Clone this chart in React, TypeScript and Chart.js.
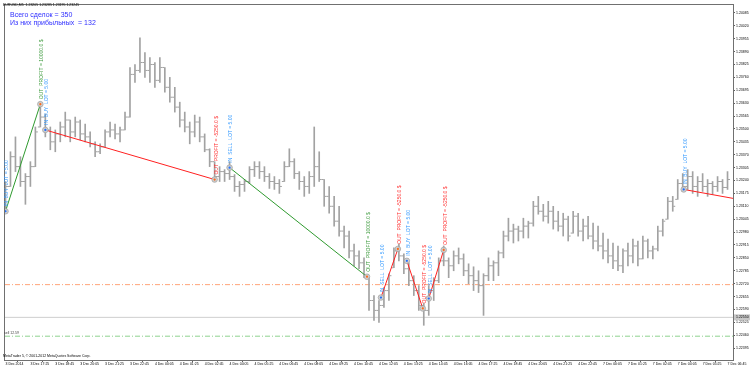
import React, { useEffect, useRef } from "react";
import { Chart, registerables } from "chart.js";

Chart.register(...registerables);

// Prices in points (price * 100000), 15-minute bars
const HIGH = [
  123235, 123385, 123460, 123360, 123275, 123335, 123510, 123635, 123575, 123510,
  123495, 123535, 123585, 123545, 123560, 123545, 123525, 123485, 123435, 123425,
  123495, 123535, 123525, 123510, 123585, 123810, 123825, 123960, 123885, 123860,
  123835, 123860, 123810, 123760, 123710, 123635, 123585, 123535, 123570, 123560,
  123475, 123400, 123335, 123310, 123295, 123335, 123270, 123235, 123245, 123310,
  123335, 123335, 123310, 123275, 123260, 123245, 123335, 123400, 123350, 123285,
  123260, 123285, 123510, 123385, 123245, 123210, 123160, 123110, 123010, 122985,
  122920, 122885, 122850, 122750, 122660, 122635, 122700, 122770, 122900, 122920,
  122870, 122825, 122760, 122710, 122620, 122710, 122750, 122850, 122910, 122850,
  122885, 122900, 122870, 122820, 122805, 122785, 122770, 122850, 122835, 122885,
  122985, 123050, 123020, 123010, 123050, 123035, 123135, 123160, 123120, 123135,
  123110, 123085, 123075, 123060, 123085, 123075, 123045, 123060, 123025, 123010,
  122975, 122945, 122925, 122910, 122895, 122925, 122945, 122935, 122960, 122945,
  122910, 123010, 123045, 123155, 123160, 123245, 123275, 123295, 123285, 123260,
  123275, 123245, 123235, 123260, 123245, 123285,
];
const LOW = [
  123085, 123210, 123285, 123210, 123120, 123210, 123310, 123510, 123460, 123395,
  123385, 123435, 123460, 123435, 123460, 123445, 123435, 123410, 123360, 123375,
  123410, 123460, 123450, 123435, 123495, 123560, 123735, 123785, 123760, 123735,
  123710, 123735, 123685, 123635, 123585, 123510, 123485, 123425, 123460, 123435,
  123385, 123310, 123235, 123235, 123235, 123245, 123185, 123160, 123185, 123225,
  123260, 123250, 123235, 123200, 123195, 123175, 123235, 123310, 123250, 123195,
  123160, 123175, 123210, 123235, 123110, 123075, 123010, 122960, 122900, 122850,
  122810, 122795, 122750, 122585, 122535, 122525, 122600, 122635, 122800, 122835,
  122770, 122710, 122660, 122585, 122510, 122560, 122635, 122725, 122810, 122750,
  122785, 122820, 122760, 122720, 122685, 122675, 122560, 122735, 122735, 122760,
  122850, 122935, 122925, 122935, 122950, 122950, 123010, 123070, 123035, 123025,
  122995, 122985, 122960, 122935, 122975, 122960, 122935, 122945, 122895, 122885,
  122845, 122825, 122795, 122785, 122775, 122810, 122825, 122810, 122845, 122850,
  122845, 122885, 122960, 123045, 123085, 123145, 123185, 123195, 123175, 123160,
  123185, 123160, 123170, 123185, 123175, 123195,
];
const CLOSE = [
  123210, 123360, 123310, 123235, 123260, 123310, 123485, 123560, 123495, 123435,
  123475, 123510, 123545, 123485, 123535, 123475, 123460, 123425, 123385, 123410,
  123485, 123495, 123475, 123495, 123560, 123775, 123795, 123835, 123795, 123825,
  123745, 123810, 123710, 123660, 123610, 123545, 123510, 123485, 123535, 123460,
  123395, 123335, 123260, 123285, 123275, 123260, 123210, 123220, 123235, 123295,
  123310, 123285, 123260, 123235, 123225, 123210, 123310, 123335, 123275, 123235,
  123210, 123260, 123310, 123245, 123160, 123110, 123035, 122985, 122960, 122885,
  122860, 122825, 122760, 122635, 122585, 122610, 122685, 122760, 122885, 122860,
  122795, 122735, 122685, 122610, 122585, 122685, 122735, 122835, 122835, 122810,
  122860, 122845, 122785, 122760, 122735, 122710, 122760, 122810, 122825, 122875,
  122960, 122985, 122995, 122985, 123010, 123025, 123110, 123085, 123060, 123085,
  123035, 123010, 123045, 122960, 123060, 122985, 123010, 122960, 122935, 122910,
  122885, 122860, 122835, 122810, 122885, 122860, 122910, 122845, 122935, 122885,
  122895, 122985, 123035, 123135, 123110, 123225, 123210, 123260, 123210, 123235,
  123210, 123225, 123210, 123235, 123205, 123245,
];

const BARS_PER_LABEL = 5;
const X_LABELS = [
  "3 Dec 2014", "3 Dec 17:25", "3 Dec 18:45", "3 Dec 20:05", "3 Dec 21:25", "3 Dec 22:45",
  "4 Dec 00:05", "4 Dec 01:25", "4 Dec 02:45", "4 Dec 04:05", "4 Dec 05:25", "4 Dec 06:45",
  "4 Dec 08:05", "4 Dec 09:25", "4 Dec 10:45", "4 Dec 12:05", "4 Dec 13:25", "4 Dec 14:45",
  "4 Dec 16:05", "4 Dec 17:25", "4 Dec 18:45", "4 Dec 20:05", "4 Dec 21:25", "4 Dec 22:45",
  "7 Dec 00:05", "7 Dec 01:25", "7 Dec 02:45", "7 Dec 04:05", "7 Dec 05:25", "7 Dec 06:45",
];
const Y_TICK_LABELS = [
  "1.24085", "1.24020", "1.23955", "1.23890", "1.23825", "1.23760", "1.23695", "1.23630",
  "1.23565", "1.23500", "1.23435", "1.23370", "1.23305", "1.23240", "1.23175", "1.23110",
  "1.23045", "1.22980", "1.22915", "1.22850", "1.22785", "1.22720", "1.22655", "1.22590",
  "1.22525", "1.22460", "1.22395",
];

// Trades
const ENTRY_X = [0, 8, 45, 75.4, 80.6, 85, 136.2];
const ENTRY_P = [123085, 123495, 123305, 122650, 122835, 122645, 123195];
const ENTRY_TEXT = [
  "IN  BUY  LOT = 5.00", "IN  BUY  LOT = 5.00", "IN  SELL  LOT = 5.00", "IN  SELL  LOT = 5.00",
  "IN  BUY  LOT = 5.00", "IN  SELL  LOT = 5.00", "IN  BUY  LOT = 5.00",
];
const EXIT_X = [7, 42, 72.6, 78.8, 83.8, 88];
const EXIT_P = [123625, 123245, 122755, 122895, 122595, 122890];
const EXIT_PROFIT = [10000, -5250, 10000, -5250, -5250, -5250];
const OPEN_END_X = 146.1;
const OPEN_END_P = 123150;

// Horizontal levels
const LEVEL_TP = 122715;
const LEVEL_PRICE = 122550;
const LEVEL_SL = 122455;

const X_MIN = -0.1;
const X_MAX = 146.1;
const Y_MIN = 122335;
const Y_MAX = 124125;

const FONT = '"Liberation Sans", Arial, sans-serif';
const GREEN = "#3c9a3c";
const RED = "#ff2e2e";
const BLUE = "#3399ff";
const BAR_COLOR = "#a2a2a2";

const fmt = (v: number) => (v / 100000).toFixed(5);

const overlayPlugin = {
  id: "overlay",
  beforeDatasetsDraw(chart: any) {
    const { ctx, chartArea } = chart;
    ctx.save();
    ctx.strokeStyle = "#707070";
    ctx.lineWidth = 1;
    ctx.strokeRect(
      Math.round(chartArea.left) - 0.5,
      Math.round(chartArea.top) - 0.5,
      Math.round(chartArea.right - chartArea.left) + 1,
      Math.round(chartArea.bottom - chartArea.top) + 1
    );
    ctx.restore();
  },
  afterDatasetsDraw(chart: any) {
    const { ctx } = chart;
    const xs = chart.scales.x;
    const ys = chart.scales.y;
    ctx.save();
    ctx.font = `5px ${FONT}`;
    ctx.textAlign = "left";
    ctx.textBaseline = "middle";
    const drawV = (text: string, xv: number, pv: number, color: string) => {
      const x = xs.getPixelForValue(xv) + 1.5;
      const y = ys.getPixelForValue(pv) - 5;
      ctx.save();
      ctx.translate(x, y);
      ctx.rotate(-Math.PI / 2);
      ctx.fillStyle = color;
      ctx.fillText(text, 0, 0);
      ctx.restore();
    };
    ENTRY_X.forEach((xv, k) => drawV(ENTRY_TEXT[k], xv, ENTRY_P[k], BLUE));
    EXIT_X.forEach((xv, k) =>
      drawV(
        `OUT  PROFIT = ${EXIT_PROFIT[k].toFixed(1)} $`,
        xv,
        EXIT_P[k],
        EXIT_PROFIT[k] > 0 ? GREEN : RED
      )
    );
    ctx.restore();
  },
  afterDraw(chart: any) {
    const { ctx, chartArea } = chart;
    const ys = chart.scales.y;
    ctx.save();
    ctx.textBaseline = "middle";
    ctx.textAlign = "left";
    ctx.fillStyle = "#000";
    ctx.font = `3.5px ${FONT}`;
    const last = CLOSE.length - 1;
    ctx.fillText(
      `EURUSD,M5  ${fmt(CLOSE[last - 1])} ${fmt(HIGH[last])} ${fmt(LOW[last])} ${fmt(CLOSE[last])}`,
      3,
      5
    );
    ctx.fillText("MetaTrader 5, © 2001-2012 MetaQuotes Software Corp.", 3, 356);
    ctx.fillStyle = "#444";
    ctx.fillText("sell 12.59", 4, ys.getPixelForValue(LEVEL_SL) - 3);
    ctx.fillStyle = "#3030ff";
    ctx.font = `7px ${FONT}`;
    ctx.fillText("Всего сделок = 350", 10, 15);
    ctx.fillText("Из них прибыльных  = 132", 10, 23);
    const py = ys.getPixelForValue(LEVEL_PRICE);
    ctx.fillStyle = "#c8c8c8";
    ctx.fillRect(chartArea.right + 1, py - 3, 16, 6);
    ctx.fillStyle = "#000";
    ctx.font = `3.5px ${FONT}`;
    ctx.fillText(fmt(LEVEL_PRICE), chartArea.right + 3, py);
    ctx.restore();
  },
};

export default function App() {
  const ref = useRef<HTMLCanvasElement>(null);

  useEffect(() => {
    if (!ref.current) return;
    const opens = CLOSE.map((c, i) =>
      i === 0 ? c : Math.min(HIGH[i], Math.max(LOW[i], CLOSE[i - 1]))
    );
    const levelLine = (p: number, color: string, dash: number[]) => ({
      type: "line",
      data: [
        { x: X_MIN, y: p },
        { x: X_MAX, y: p },
      ],
      borderColor: color,
      borderWidth: 1,
      borderDash: dash,
      pointRadius: 0,
      order: 20,
    });
    const tradeLines: any[] = [];
    EXIT_X.forEach((xv, k) => {
      tradeLines.push({
        type: "line",
        data: [
          { x: ENTRY_X[k], y: ENTRY_P[k] },
          { x: xv, y: EXIT_P[k] },
        ],
        borderColor: EXIT_PROFIT[k] > 0 ? "#2f9a2f" : "#ff2020",
        borderWidth: 1,
        pointRadius: 0,
        order: 5,
      });
    });
    const lastK = ENTRY_X.length - 1;
    tradeLines.push({
      type: "line",
      data: [
        { x: ENTRY_X[lastK], y: ENTRY_P[lastK] },
        { x: OPEN_END_X, y: OPEN_END_P },
      ],
      borderColor: "#ff2020",
      borderWidth: 1,
      pointRadius: 0,
      order: 5,
    });

    const chart = new Chart(ref.current, {
      type: "scatter",
      data: {
        datasets: [
          levelLine(LEVEL_TP, "#ffa47a", [5, 2, 1, 2]),
          levelLine(LEVEL_PRICE, "#cfcfcf", []),
          levelLine(LEVEL_SL, "#8fd28f", [5, 2, 1, 2]),
          {
            type: "bar",
            data: HIGH.map((h, i) => ({ x: i, y: [LOW[i], h] })),
            backgroundColor: BAR_COLOR,
            borderWidth: 0,
            barThickness: 1,
            order: 10,
          },
          {
            type: "scatter",
            data: opens.map((o, i) => ({ x: i - 0.3, y: o })),
            pointStyle: "line",
            pointRadius: 1,
            borderColor: BAR_COLOR,
            borderWidth: 1,
            order: 10,
          },
          {
            type: "scatter",
            data: CLOSE.map((c, i) => ({ x: i + 0.3, y: c })),
            pointStyle: "line",
            pointRadius: 1,
            borderColor: BAR_COLOR,
            borderWidth: 1,
            order: 10,
          },
          ...tradeLines,
          {
            type: "scatter",
            data: [
              ...ENTRY_X.map((x, k) => ({ x, y: ENTRY_P[k] })),
              ...EXIT_X.map((x, k) => ({ x, y: EXIT_P[k] })),
            ],
            pointRadius: 2.8,
            pointBackgroundColor: "rgba(205,205,205,0.9)",
            pointBorderColor: "rgba(160,160,160,0.9)",
            pointBorderWidth: 0.8,
            order: 2,
          },
          {
            type: "scatter",
            data: ENTRY_X.map((x, k) => ({ x, y: ENTRY_P[k] })),
            pointRadius: 1.1,
            pointBackgroundColor: "#1e6fff",
            pointBorderWidth: 0,
            order: 1,
          },
          {
            type: "scatter",
            data: EXIT_X.map((x, k) => ({ x, y: EXIT_P[k] })),
            pointRadius: 1.1,
            pointBackgroundColor: "#ff6a1a",
            pointBorderWidth: 0,
            order: 1,
          },
        ] as any,
      },
      options: {
        responsive: false,
        animation: false,
        devicePixelRatio: 1,
        layout: { padding: { left: 2, top: 2, right: 0, bottom: 0 } },
        plugins: { legend: { display: false }, tooltip: { enabled: false } },
        events: [],
        scales: {
          x: {
            type: "linear",
            min: X_MIN,
            max: X_MAX,
            offset: false,
            grid: { drawOnChartArea: false, drawTicks: true, tickLength: 2, color: "#606060" },
            border: { display: true, color: "#707070" },
            ticks: {
              autoSkip: false,
              maxRotation: 0,
              minRotation: 0,
              align: "start",
              padding: 0,
              color: "#000",
              font: { size: 3.5, family: FONT },
              callback: (_v: any, idx: number) => X_LABELS[idx],
            },
            afterBuildTicks: (s: any) => {
              s.ticks = X_LABELS.map((_, k) => ({ value: k * BARS_PER_LABEL }));
            },
            afterFit: (s: any) => {
              s.height = 6;
            },
          } as any,
          y: {
            type: "linear",
            position: "right",
            min: Y_MIN,
            max: Y_MAX,
            grid: { drawOnChartArea: false, drawTicks: true, tickLength: 2, color: "#606060" },
            border: { display: true, color: "#707070" },
            ticks: {
              autoSkip: false,
              padding: 1,
              color: "#000",
              font: { size: 3.5, family: FONT },
              callback: (_v: any, idx: number) => Y_TICK_LABELS[idx],
            },
            afterBuildTicks: (s: any) => {
              s.ticks = Y_TICK_LABELS.map((t) => ({ value: Math.round(parseFloat(t) * 100000) }));
            },
            afterFit: (s: any) => {
              s.width = 17;
            },
          } as any,
        },
      },
      plugins: [overlayPlugin],
    });
    return () => chart.destroy();
  }, []);

  return (
    <div
      style={{
        position: "absolute",
        left: 0,
        top: 0,
        width: 750,
        height: 366,
        background: "#fff",
      }}
    >
      <canvas ref={ref} width={750} height={366} style={{ display: "block" }} />
    </div>
  );
}
